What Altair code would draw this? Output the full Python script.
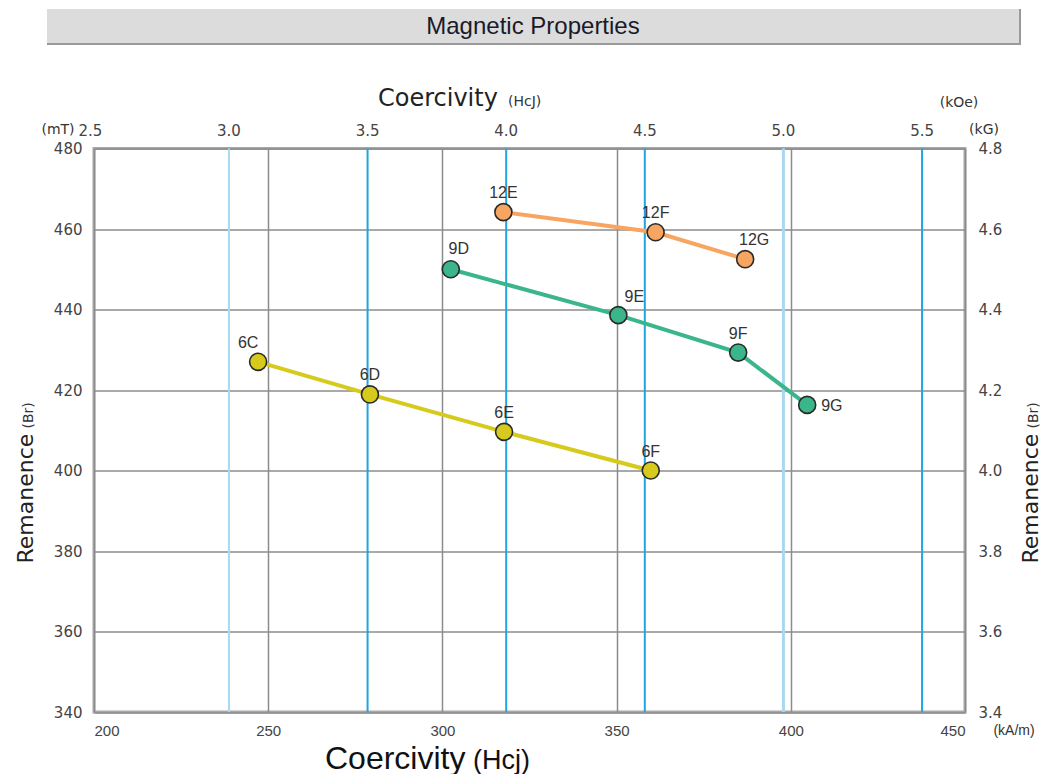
import math
import altair as alt
import pandas as pd

# ---------------- data ----------------
grades = ["6C", "6D", "6E", "6F", "9D", "9E", "9F", "9G", "12E", "12F", "12G"]
series = ["6", "6", "6", "6", "9", "9", "9", "9", "12", "12", "12"]
hcj_kam = [247.1, 279.2, 317.7, 359.8, 302.4, 350.5, 384.9, 404.7, 317.5, 361.2, 386.9]
br_mt = [427.0, 418.9, 409.6, 400.0, 450.0, 438.6, 429.3, 416.3, 464.2, 459.2, 452.5]

x_ticks = [200, 250, 300, 350, 400, 450]
y_ticks = [340, 360, 380, 400, 420, 440, 460, 480]
kg_ticks = [3.4, 3.6, 3.8, 4.0, 4.2, 4.4, 4.6, 4.8]
koe_ticks = [2.5, 3.0, 3.5, 4.0, 4.5, 5.0, 5.5]
koe_lines = [3.0, 3.5, 4.0, 4.5, 5.0, 5.5]

series_order = ["6", "9", "12"]
series_colors = ["#d6ca1c", "#3bb68a", "#f7a561"]

KAM_PER_KOE = 1000.0 / (4 * math.pi)

# layout (pixels)
W, H = 871, 563.5
X0, X1, Y0, Y1 = 200, 450, 340, 480
PX_PER_X = W / (X1 - X0)
PX_PER_Y = H / (Y1 - Y0)

# label nudges in pixels (layout only)
label_nudge = {"6C": (-10, -19), "9D": (8, -20), "9E": (16, -18), "12G": (9, -19), "9G": (14, 1)}

df = pd.DataFrame({"grade": grades, "series": series, "hcj": hcj_kam, "br": br_mt})
df["lx"] = [h + label_nudge.get(g, (0, -19))[0] / PX_PER_X for g, h in zip(grades, hcj_kam)]
df["ly"] = [b - label_nudge.get(g, (0, -19))[1] / PX_PER_Y for g, b in zip(grades, br_mt)]
df["side"] = ["right" if g == "9G" else "center" for g in grades]

xscale = alt.Scale(domain=[X0, X1], nice=False, zero=False)
yscale = alt.Scale(domain=[Y0, Y1], nice=False, zero=False)

x_axis = alt.Axis(values=x_ticks, title=None, grid=True, gridColor="#8c8c8c", gridWidth=1.5,
                  tickSize=0, domain=False, labelPadding=11, labelFont="Liberation Sans",
                  labelFontSize=15, labelColor="#444")
y_axis = alt.Axis(values=y_ticks, title=None, grid=True, gridColor="#8c8c8c", gridWidth=1.5,
                  tickSize=0, domain=False, labelPadding=12, labelFont="DejaVu Sans",
                  labelFontSize=15, labelColor="#444")

color = alt.Color("series:N", scale=alt.Scale(domain=series_order, range=series_colors), legend=None)

# blue kOe reference lines
koe_df = pd.DataFrame({"kOe": koe_lines})
blue = alt.Chart(koe_df).transform_calculate(
    kam=f"datum.kOe * {KAM_PER_KOE}"
).mark_rule().encode(
    x=alt.X("kam:Q", scale=xscale, axis=x_axis),
    color=alt.condition("datum.kOe == 3 || datum.kOe == 5", alt.value("#a9d9f2"), alt.value("#1fa5e0")),
    strokeWidth=alt.condition("datum.kOe == 5", alt.value(3), alt.value(2)),
)

base = alt.Chart(df)

lines = base.mark_line(strokeWidth=4).encode(
    x=alt.X("hcj:Q", scale=xscale, axis=x_axis),
    y=alt.Y("br:Q", scale=yscale, axis=y_axis),
    color=color,
    order="hcj:Q",
)

points = base.mark_circle(size=290, opacity=1, stroke="#2a2a2a", strokeWidth=1.6).encode(
    x=alt.X("hcj:Q", scale=xscale, axis=x_axis),
    y=alt.Y("br:Q", scale=yscale, axis=y_axis),
    color=color,
)

lab_c = base.transform_filter("datum.side == 'center'").mark_text(
    font="Liberation Sans", fontSize=16, color="#333", align="center", baseline="middle"
).encode(
    x=alt.X("lx:Q", scale=xscale, axis=x_axis),
    y=alt.Y("ly:Q", scale=yscale, axis=y_axis),
    text="grade:N",
)
lab_r = base.transform_filter("datum.side == 'right'").mark_text(
    font="Liberation Sans", fontSize=16, color="#333", align="left", baseline="middle"
).encode(
    x=alt.X("lx:Q", scale=xscale, axis=x_axis),
    y=alt.Y("ly:Q", scale=yscale, axis=y_axis),
    text="grade:N",
)

# top kOe tick labels
top_df = pd.DataFrame({"kOe": koe_ticks})
top_labels = alt.Chart(top_df).transform_calculate(
    kam=f"datum.kOe * {KAM_PER_KOE}",
    lab="format(datum.kOe, '.1f')",
).mark_text(font="DejaVu Sans", fontSize=15, color="#444", baseline="middle").encode(
    x=alt.X("kam:Q", scale=xscale, axis=x_axis),
    y=alt.value(-18),
    text="lab:N",
)


def txt(s, x, y, size, font="DejaVu Sans", align="center", baseline="middle", angle=0, col="#333"):
    kw = dict(text=s, font=font, fontSize=size, align=align, baseline=baseline, color=col)
    if angle:
        kw["angle"] = angle
    return alt.Chart(pd.DataFrame({"a": [0]})).mark_text(**kw).encode(x=alt.value(x), y=alt.value(y))


# banner
banner_shadow = alt.Chart(pd.DataFrame({"a": [0]})).mark_rect(color="#9a9a9a").encode(
    x=alt.value(-47), x2=alt.value(927), y=alt.value(-139.5), y2=alt.value(-103.5))
banner = alt.Chart(pd.DataFrame({"a": [0]})).mark_rect(color="#dcdcdc").encode(
    x=alt.value(-47), x2=alt.value(925), y=alt.value(-139.5), y2=alt.value(-105.5))

decor = [
    banner_shadow,
    banner,
    txt("Magnetic Properties", 439, -122, 24, font="Liberation Sans", col="#1a1a2a"),
    txt("Coercivity", 284, -42.5, 24, align="left", baseline="alphabetic", col="#222"),
    txt("(HcJ)", 414, -42.5, 14, align="left", baseline="alphabetic", col="#333"),
    txt("(mT)", -36, -19, 14),
    txt("(kOe)", 865, -46, 14),
    txt("(kG)", 890, -19, 14),
    txt("(kA/m)", 920, 582.5, 14, font="Liberation Sans"),
    txt("Coercivity", 231, 620, 32, font="Liberation Sans", align="left", baseline="alphabetic", col="#111"),
    txt("(Hcj)", 379, 620, 27, font="Liberation Sans", align="left", baseline="alphabetic", col="#111"),
    txt("Remanence", -61, 415, 22, align="left", baseline="alphabetic", angle=270, col="#222"),
    txt("(Br)", -61, 280, 14, align="left", baseline="alphabetic", angle=270, col="#333"),
    txt("Remanence", 944, 415, 22, align="left", baseline="alphabetic", angle=270, col="#222"),
    txt("(Br)", 944, 280, 14, align="left", baseline="alphabetic", angle=270, col="#333"),
]

main = alt.layer(blue, lines, points, lab_c, lab_r, top_labels, *decor)

right_axis = alt.Chart(pd.DataFrame({"kG": kg_ticks})).mark_point(opacity=0).encode(
    y=alt.Y("kG:Q", scale=alt.Scale(domain=[3.4, 4.8], nice=False, zero=False),
            axis=alt.Axis(orient="right", values=kg_ticks, format=".1f", title=None, grid=False,
                          tickSize=0, domain=False, labelPadding=13, labelFont="DejaVu Sans",
                          labelFontSize=15, labelColor="#444")),
)

chart = alt.layer(main, right_axis).resolve_scale(y="independent").properties(
    width=W, height=H,
    padding={"left": 86, "top": 140.5, "right": 81, "bottom": 62},
    autosize=alt.AutoSizeParams(type="none"),
    background="white",
).configure_view(stroke="#a8a8a8", strokeWidth=3)

chart.save("out.html", embed_options={"renderer": "svg", "actions": False})
